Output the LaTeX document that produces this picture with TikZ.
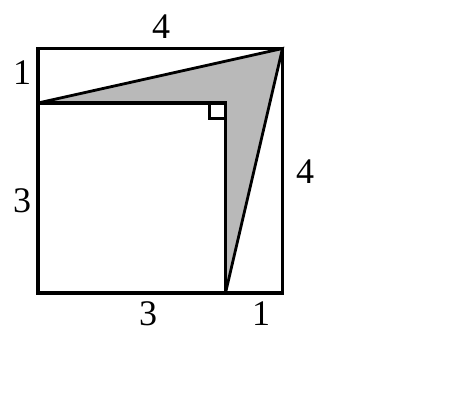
\documentclass[tikz,border=0pt]{standalone}
\usepackage{fontspec}
\setmainfont{Liberation Serif}
\begin{document}
\begin{tikzpicture}[x=1pt,y=-1pt,
  edge/.style={line width=3.2pt,line join=miter},
  thin edge/.style={line width=2.8pt,line join=miter},
  lbl/.style={font=\fontsize{36}{36}\selectfont,inner sep=0pt}]
\useasboundingbox (0,0) rectangle (450,411);
\fill[white] (0,0) rectangle (450,411);
\coordinate (A) at (38,293);
\coordinate (B) at (282.5,293);
\coordinate (C) at (282.5,48.5);
\coordinate (D) at (38,48.5);
\coordinate (E) at (38,103);
\coordinate (F) at (225.5,103);
\coordinate (G) at (225.5,293);
\fill[gray!55] (E) -- (C) -- (G) -- (F) -- cycle;
\draw[edge] (A) -- (B) -- (C) -- (D) -- cycle;
\draw[edge] (E) -- (F) -- (G);
\draw[thin edge] (E) -- (C) -- (G);
\draw[line width=2.4pt] (209.5,103) -- (209.5,118.5) -- (225.5,118.5);
\node[lbl] (t4) at (161,27) {4};
\node[lbl] (l1) at (22,73) {1};
\node[lbl] (l3) at (22,201) {3};
\node[lbl] (r4) at (305,172) {4};
\node[lbl] (b3) at (148,314) {3};
\node[lbl] (b1) at (261,314) {1};
\end{tikzpicture}
\end{document}
